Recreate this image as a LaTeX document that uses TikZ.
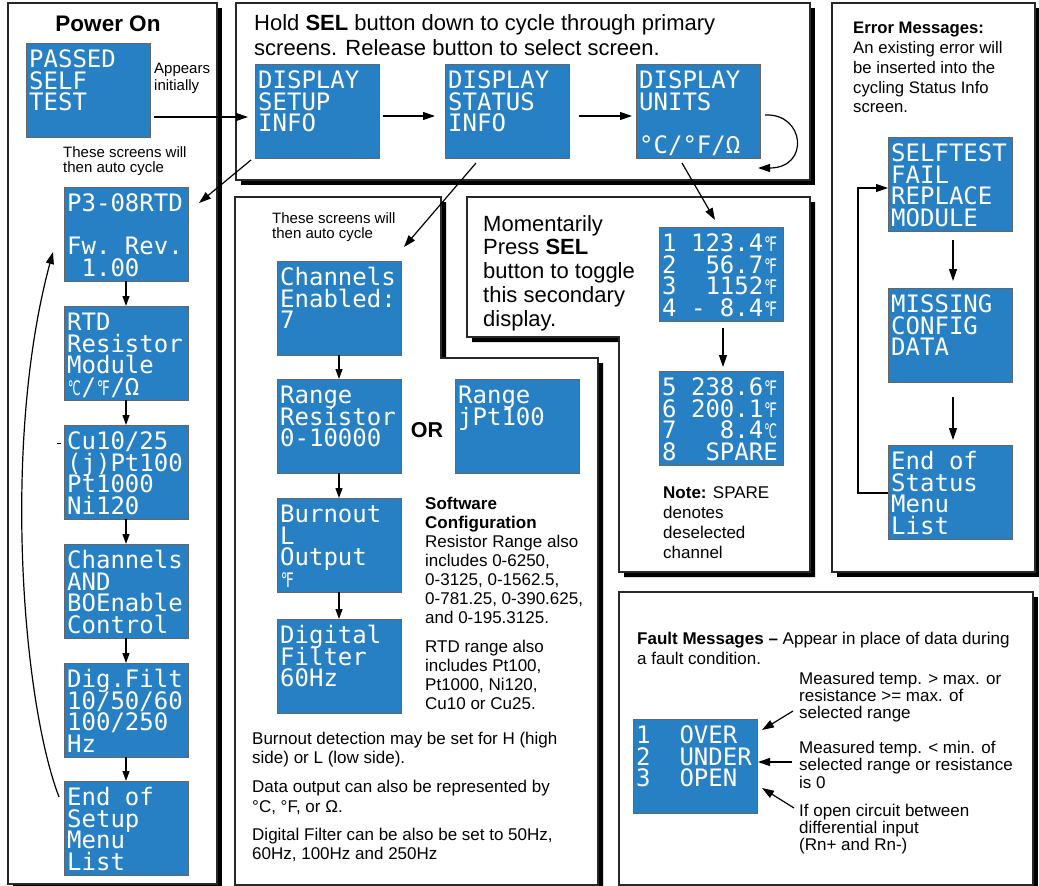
\documentclass[tikz,border=0pt]{standalone}
\usepackage{fontspec}
\usepackage{graphicx}
\setmainfont{Liberation Sans}
\newfontfamily\lcdfam{DejaVu Sans Mono}
\newfontfamily\symfam{DejaVu Sans}
\usetikzlibrary{arrows.meta}
\definecolor{lcdblue}{RGB}{39,127,196}
\definecolor{edge}{RGB}{40,40,40}
\newcommand\lcdfont{\lcdfam\fontsize{24}{21.7}\selectfont}
\newcommand\LL[1]{\hbox{#1}}
\newcommand\blk[1]{\vtop{\lineskiplimit=-1000pt\relax #1}}
\newcommand\dsym[1]{\makebox[14.45pt][c]{\symfam\fontsize{20}{20}\selectfont\resizebox{13pt}{\height}{\iffontchar\font"#1\relax\char"#1\relax\else °\fi}}}
\newcommand\lcdbox[4]{%
  \node[lcd] (#1) at (#2,#3) {};
  \node[lcdt] (#1t) at ([shift={(3,24.5)}]#1.north west) {\blk{#4}};}
\begin{document}
\begin{tikzpicture}[x=1pt,y=-1pt,
  panel/.style={draw=edge, line width=1.1pt, fill=white},
  shad/.style={fill=black, shift={(5,5)}},
  lcd/.style={draw=black!60, line width=0.8pt, fill=lcdblue, minimum width=124pt, minimum height=94pt, inner sep=0pt, outer sep=0pt, anchor=north west},
  lcdt/.style={anchor=base west, inner sep=0pt, text=white, font=\lcdfont},
  txt/.style={anchor=base west, inner sep=0pt, font=\fontsize{17}{19.1}\selectfont},
  arr/.style={line width=1.2pt, -{Triangle[length=12pt,width=8pt]}},
  sarr/.style={line width=1.2pt, -{Triangle[length=10pt,width=7pt]}}]
\useasboundingbox (0,0) rectangle (1039,886);
\fill[white] (0,0) rectangle (1039,886);

% ---------- panels ----------
\fill[shad] (8,3) rectangle (217,884);
\filldraw[panel] (8,3) rectangle (217,884);
\fill[shad] (236,3) rectangle (810,180);
\filldraw[panel] (236,3) rectangle (810,180);
\fill[shad] (235,197) -- (441,197) -- (441,358) -- (598,358) -- (598,885) -- (235,885) -- cycle;
\filldraw[panel] (235,197) -- (441,197) -- (441,358) -- (598,358) -- (598,885) -- (235,885) -- cycle;
\fill[shad] (467,197) -- (810,197) -- (810,572) -- (619,572) -- (619,337) -- (467,337) -- cycle;
\filldraw[panel] (467,197) -- (810,197) -- (810,572) -- (619,572) -- (619,337) -- (467,337) -- cycle;
\fill[shad] (832,3) rectangle (1035,572);
\filldraw[panel] (832,3) rectangle (1035,572);
\fill[shad] (619,592) rectangle (1033,885);
\filldraw[panel] (619,592) rectangle (1033,885);

% ---------- Power On ----------
\node[font=\bfseries\fontsize{22.5}{26}\selectfont, anchor=base, inner sep=0pt] (pwr) at (108,31) {Power On};
\lcdbox{passed}{26}{43}{\LL{PASSED}\LL{SELF}\LL{TEST}}
\node[txt, font=\fontsize{15}{17}\selectfont] (appears) at (154,73) {\blk{\LL{Appears}\LL{initially}}};
\node[txt, font=\fontsize{15}{15.5}\selectfont] (auto1) at (63,157) {\blk{\LL{These screens will}\LL{then auto cycle}}};
\lcdbox{p3}{64}{187}{\LL{P3-08RTD}\LL{}\LL{Fw.~Rev.}\LL{~1.00}}
\lcdbox{rtd}{64}{306}{\LL{RTD}\LL{Resistor}\LL{Module}\LL{\dsym{2103}/\dsym{2109}/Ω}}
\lcdbox{cu}{64}{425}{\LL{Cu10/25}\LL{(j)Pt100}\LL{Pt1000}\LL{Ni120}}
\lcdbox{chand}{64}{544}{\LL{Channels}\LL{AND}\LL{BOEnable}\LL{Control}}
\lcdbox{dig}{64}{663}{\LL{Dig.Filt}\LL{10/50/60}\LL{100/250}\LL{Hz}}
\lcdbox{endsu}{64}{781}{\LL{End~of}\LL{Setup}\LL{Menu}\LL{List}}
\draw[line width=0.9pt] (57,443) -- (61,443);

% ---------- top panel ----------
\node[txt, font=\fontsize{22}{25}\selectfont] (hold) at (254,30) {\blk{\LL{Hold \textbf{SEL} button down to cycle through primary}\LL{screens. Release button to select screen.}}};
\lcdbox{setup}{255}{64}{\LL{DISPLAY}\LL{SETUP}\LL{INFO}}
\lcdbox{status}{445}{64}{\LL{DISPLAY}\LL{STATUS}\LL{INFO}}
\lcdbox{units}{636}{64}{\LL{DISPLAY}\LL{UNITS}\LL{}\LL{°C/°F/Ω}}

% ---------- middle panel ----------
\node[txt, font=\fontsize{15}{15.5}\selectfont] (auto2) at (272,223) {\blk{\LL{These screens will}\LL{then auto cycle}}};
\lcdbox{chen}{277}{261}{\LL{Channels}\LL{Enabled:}\LL{7}}
\lcdbox{rres}{277}{379}{\LL{Range}\LL{Resistor}\LL{0-10000}}
\lcdbox{rjpt}{455}{379}{\LL{Range}\LL{jPt100}}
\node[font=\bfseries\fontsize{21.5}{24}\selectfont, anchor=base, inner sep=0pt] (or) at (427,437) {OR};
\lcdbox{burn}{277}{498}{\LL{Burnout}\LL{L}\LL{Output}\LL{\dsym{2109}}}
\lcdbox{dfilt}{277}{619}{\LL{Digital}\LL{Filter}\LL{60Hz}}
\node[txt] (soft) at (425,509) {\blk{\LL{\textbf{Software}}\LL{\textbf{Configuration}}\LL{Resistor Range also}\LL{includes 0-6250,}\LL{0-3125, 0-1562.5,}\LL{0-781.25, 0-390.625,}\LL{and 0-195.3125.}}};
\node[txt] (rtdr) at (425,652) {\blk{\LL{RTD range also}\LL{includes Pt100,}\LL{Pt1000, Ni120,}\LL{Cu10 or Cu25.}}};
\node[txt] (burnT) at (252,744) {\blk{\LL{Burnout detection may be set for H (high}\LL{side) or L (low side).}}};
\node[txt, font=\fontsize{17}{20}\selectfont] (dataT) at (252,792) {\blk{\LL{Data output can also be represented by}\LL{°C, °F, or Ω.}}};
\node[txt] (digT) at (252,840) {\blk{\LL{Digital Filter can be also be set to 50Hz,}\LL{60Hz, 100Hz and 250Hz}}};

% ---------- secondary display panel ----------
\node[txt, font=\fontsize{22}{23.8}\selectfont] (mom) at (483,231) {\blk{\LL{Momentarily}\LL{Press \textbf{SEL}}\LL{button to toggle}\LL{this secondary}\LL{display.}}};
\lcdbox{sec1}{659}{227}{\LL{1~123.4\dsym{2109}}\LL{2~~56.7\dsym{2109}}\LL{3~~1152\dsym{2109}}\LL{4~-~8.4\dsym{2109}}}
\lcdbox{sec2}{659}{371}{\LL{5~238.6\dsym{2109}}\LL{6~200.1\dsym{2109}}\LL{7~~~8.4\dsym{2103}}\LL{8~~SPARE}}
\node[txt, font=\fontsize{17}{20.3}\selectfont] (note) at (663,498) {\blk{\LL{\textbf{Note:} SPARE}\LL{denotes}\LL{deselected}\LL{channel}}};

% ---------- error panel ----------
\node[txt, font=\fontsize{16.7}{19.7}\selectfont] (errT) at (853,34) {\blk{\LL{\textbf{Error Messages:}}\LL{An existing error will}\LL{be inserted into the}\LL{cycling Status Info}\LL{screen.}}};
\lcdbox{selft}{888}{137}{\LL{SELFTEST}\LL{FAIL}\LL{REPLACE}\LL{MODULE}}
\lcdbox{missing}{888}{288}{\LL{MISSING}\LL{CONFIG}\LL{DATA}}
\lcdbox{endst}{888}{445}{\LL{End~of}\LL{Status}\LL{Menu}\LL{List}}

% ---------- fault panel ----------
\node[txt, font=\fontsize{17}{20}\selectfont] (faultT) at (637,644) {\blk{\LL{\textbf{Fault Messages –} Appear in place of data during}\LL{a fault condition.}}};
\lcdbox{fault}{633}{719}{\LL{1~~OVER}\LL{2~~UNDER}\LL{3~~OPEN}}
\node[txt, font=\fontsize{17}{17}\selectfont] (f1) at (799,684) {\blk{\LL{Measured temp. > max. or}\LL{resistance >= max. of}\LL{selected range}}};
\node[txt, font=\fontsize{17}{17.5}\selectfont] (f2) at (799,753) {\blk{\LL{Measured temp. < min. of}\LL{selected range or resistance}\LL{is 0}}};
\node[txt, font=\fontsize{17}{17}\selectfont] (f3) at (799,816) {\blk{\LL{If open circuit between}\LL{differential input}\LL{(Rn+ and Rn-)}}};

% ---------- connectors ----------
\draw[arr] ([shift={(4,27)}]passed.east) -- ([shift={(-7,6)}]setup.west);
\draw[arr] ([shift={(4,5)}]setup.east) -- ([shift={(-10,5)}]status.west);
\draw[arr] ([shift={(10,5)}]status.east) -- ([shift={(-4,5)}]units.west);
\draw[arr] ([shift={(5,4)}]units.east) .. controls +(40,-2) and +(52,0) .. ([shift={(-2,10)}]units.south east);
\draw[arr] ([shift={(-4,2)}]setup.south west) -- ([shift={(11,16)}]p3.north east);
\draw[arr] ([shift={(-31,5)}]status.south) -- ([shift={(3,-14)}]chen.north east);
\draw[arr] ([shift={(-16,5)}]units.south) -- ([shift={(-6,-7)}]sec1.north);

\draw[sarr] (p3.south) -- (rtd.north);
\draw[sarr] (rtd.south) -- (cu.north);
\draw[sarr] (cu.south) -- (chand.north);
\draw[sarr] (chand.south) -- (dig.north);
\draw[sarr] (dig.south) -- (endsu.north);
\coordinate (cycS) at ([shift={(-5,-31)}]endsu.west);
\coordinate (cycE) at ([shift={(-11,18)}]p3.west);
\draw[arr] (cycS) .. controls (22,700) and (2,440) .. (cycE);

\draw[sarr] (chen.south) -- (rres.north);
\draw[sarr] (rres.south) -- (burn.north);
\draw[sarr] (burn.south) -- (dfilt.north);

\draw[arr] ([shift={(2,7)}]sec1.south) -- ([shift={(2,-4)}]sec2.north);

\draw[arr] ([shift={(3,9)}]selft.south) -- ([shift={(3,-7)}]missing.north);
\draw[arr] ([shift={(3,15)}]missing.south) -- ([shift={(3,-5)}]endst.north);
\draw[arr] ([shift={(0,1)}]endst.west) -- ++(-30,0) |- ([shift={(0,4)}]selft.west);

\draw[arr] ([shift={(-6,27)}]f1.base west) -- ([shift={(5,11)}]fault.north east);
\draw[arr] ([shift={(-7,9)}]f2.base west) -- ([shift={(1,-4)}]fault.east);
\draw[arr] ([shift={(-5,-8)}]f3.base west) -- ([shift={(5,22)}]fault.east);
\end{tikzpicture}
\end{document}
